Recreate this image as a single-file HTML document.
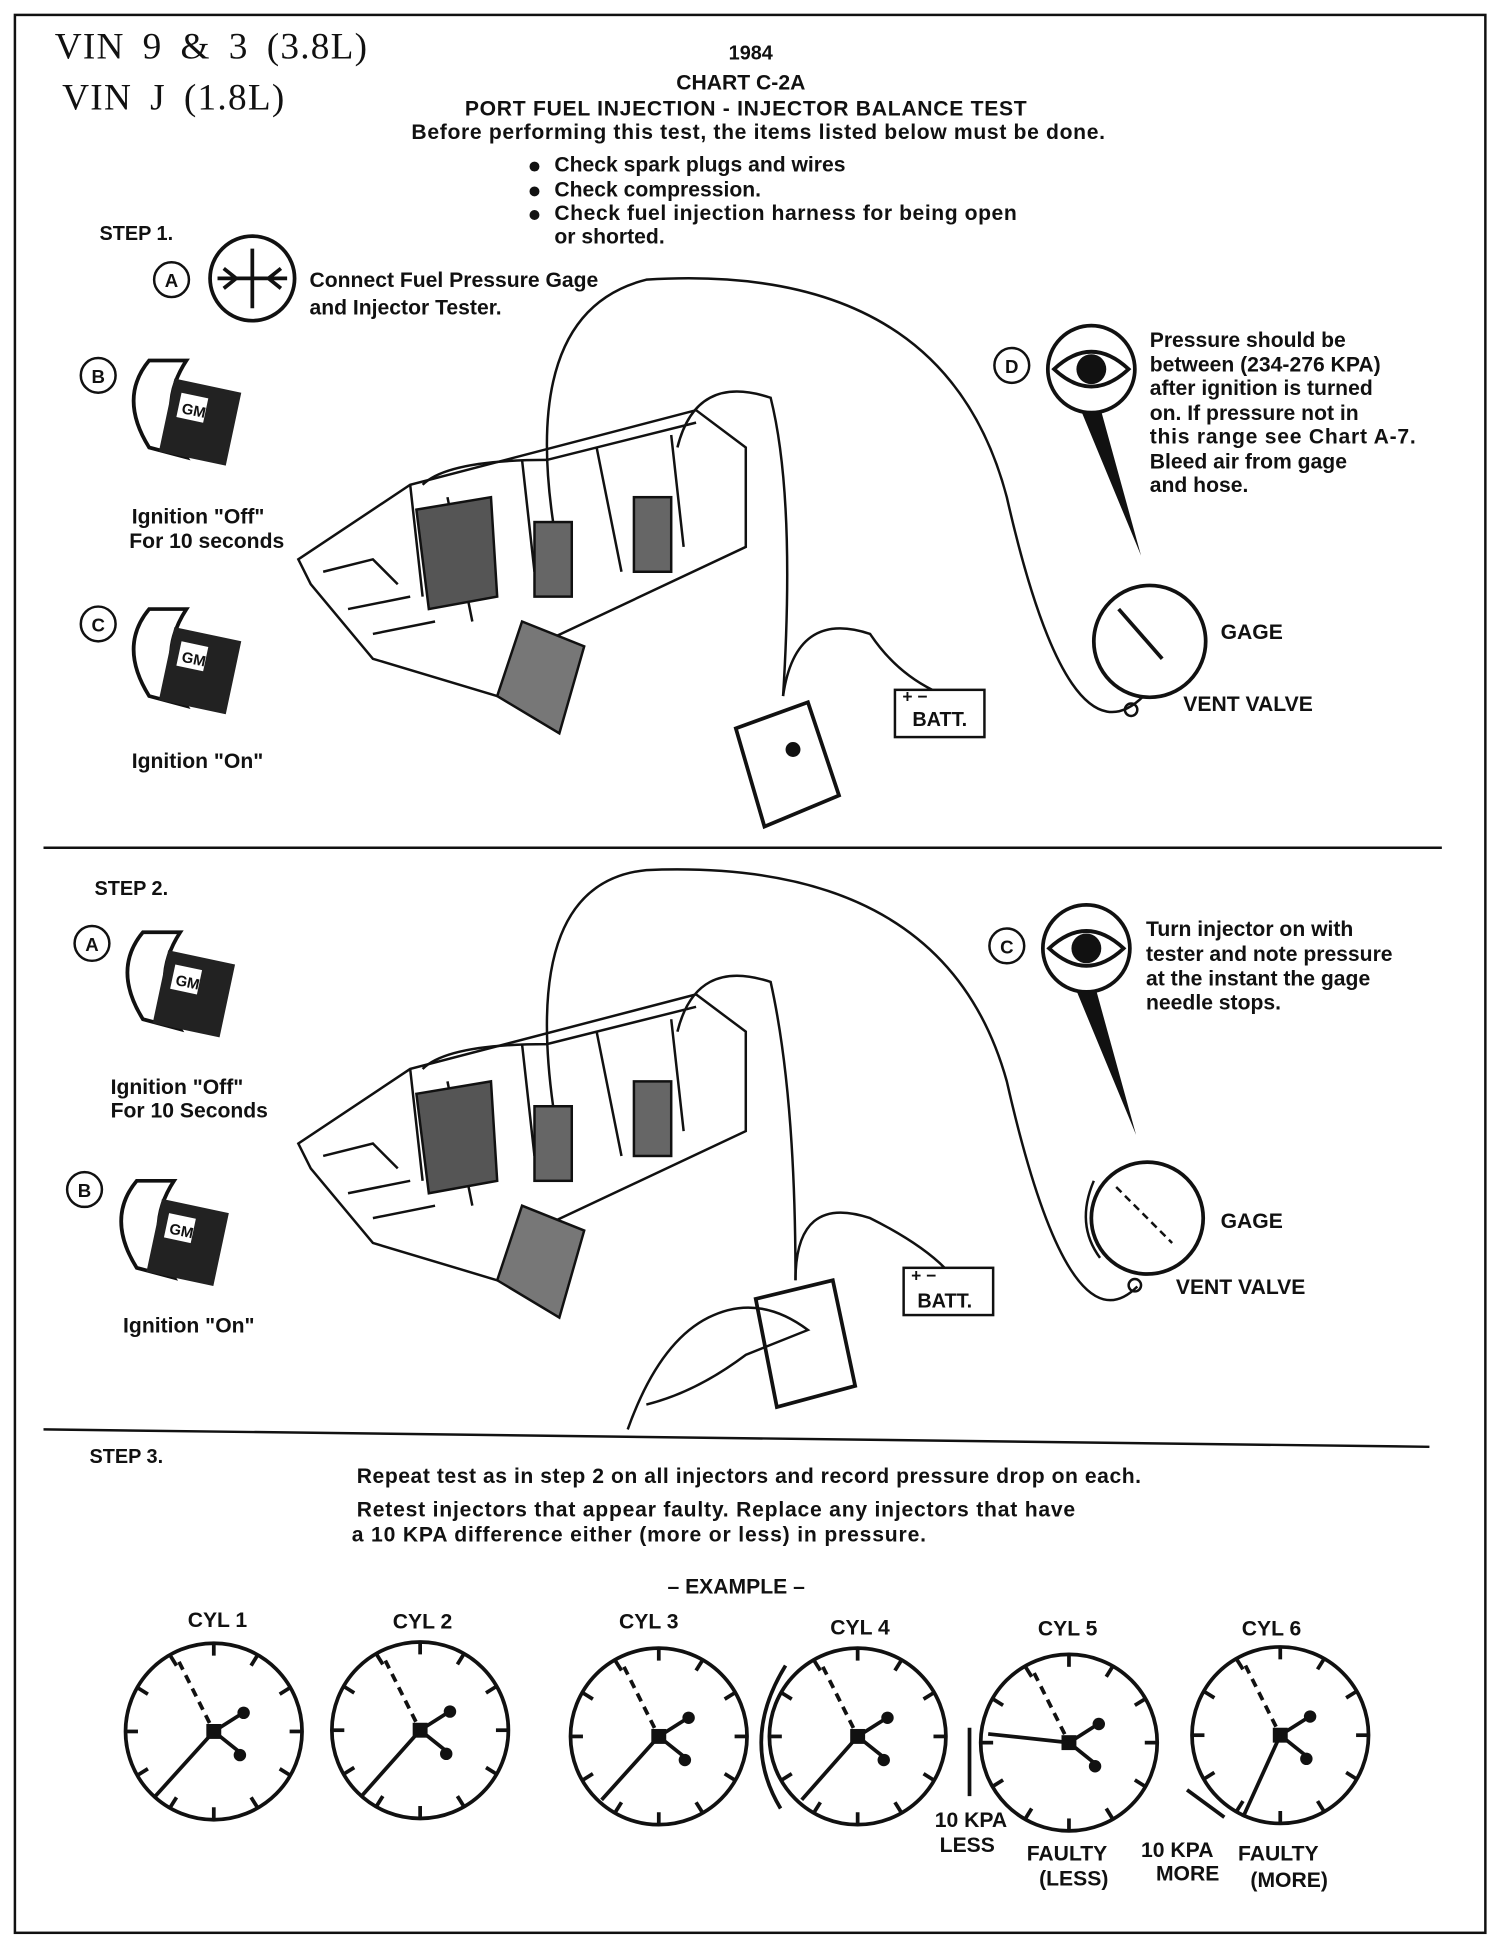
<!DOCTYPE html>
<html><head><meta charset="utf-8"><style>
html,body{margin:0;padding:0;background:#fff}
svg{display:block}
text{font-family:"Liberation Sans",sans-serif;font-weight:bold;fill:#111}
.s{font-family:"Liberation Serif",serif;font-weight:normal}
</style></head><body>
<svg width="1504" height="1944" viewBox="0 0 1210 1564" preserveAspectRatio="none" xmlns="http://www.w3.org/2000/svg">
<defs>
<g id="gauge">
<circle r="71" fill="none" stroke="#111" stroke-width="3"/>
<g stroke="#111" stroke-width="3">
<line x1="0" y1="-71" x2="0" y2="-61"/><line x1="0" y1="71" x2="0" y2="61"/>
<line x1="-71" y1="0" x2="-61" y2="0"/><line x1="71" y1="0" x2="61" y2="0"/>
<line x1="35" y1="-61" x2="30" y2="-53"/><line x1="61" y1="-35" x2="53" y2="-30"/>
<line x1="-35" y1="-61" x2="-30" y2="-53"/><line x1="-61" y1="-35" x2="-53" y2="-30"/>
<line x1="35" y1="61" x2="30" y2="53"/><line x1="61" y1="35" x2="53" y2="30"/>
<line x1="-35" y1="61" x2="-30" y2="53"/><line x1="-61" y1="35" x2="-53" y2="30"/>
<line x1="-28" y1="-56" x2="0" y2="0" stroke-dasharray="7,5"/>
<line x1="0" y1="0" x2="22" y2="-14"/><line x1="0" y1="0" x2="20" y2="16"/>
</g>
<rect x="-6" y="-6" width="12" height="12" fill="#111"/>
<circle cx="24" cy="-15" r="5" fill="#111"/><circle cx="21" cy="19" r="5" fill="#111"/>
</g>
<g id="key">
<path d="M-20,-40 q-25,30 0,70 l30,8 q-25,-40 0,-78z" fill="#fff" stroke="#111" stroke-width="3"/>
<rect x="-5" y="-25" width="55" height="60" fill="#222" transform="rotate(12)"/>
<rect x="3" y="-15" width="22" height="20" fill="#fff" transform="rotate(12)"/>
<text x="6" y="1" font-size="12" fill="#111" transform="rotate(12)">GM</text>
</g>
<g id="eye">
<circle r="35" fill="#fff" stroke="#111" stroke-width="3"/>
<path d="M-30,0 q30,-28 60,0 q-30,28 -60,0z" fill="#fff" stroke="#111" stroke-width="3"/>
<circle r="12" fill="#111"/>
<path d="M-8,34 L40,150 L8,34z" fill="#111"/>
</g>
<g id="engine" fill="none" stroke="#111" stroke-width="2">
<path d="M240,450 L330,390 L560,330 L600,360 L600,440 L430,520 L400,560 L300,530 L250,470z" fill="#fff"/>
<path d="M330,390 L340,480 M360,400 L380,500 M420,370 L430,460 M480,360 L500,460 M540,350 L550,440"/>
<path d="M335,410 L395,400 L400,480 L345,490z" fill="#555"/>
<path d="M400,560 L420,500 L470,520 L450,590z" fill="#777"/>
<path d="M260,460 L300,450 L320,470 M280,490 L330,480 M300,510 L350,500"/>
<rect x="430" y="420" width="30" height="60" fill="#666"/><rect x="510" y="400" width="30" height="60" fill="#666"/>
<path d="M340,390 q20,-20 100,-20 l120,-30"/>
</g>
</defs>
<rect x="12" y="12" width="1183" height="1543" fill="none" stroke="#111" stroke-width="2"/>
<text class="s" x="44" y="47" font-size="30" word-spacing="6" letter-spacing="1">VIN 9 &amp; 3 (3.8L)</text>
<text class="s" x="50" y="88" font-size="30" word-spacing="6" letter-spacing="1">VIN J (1.8L)</text>
<g font-size="17" text-anchor="middle">
<text x="604" y="48" font-size="16">1984</text>
<text x="596" y="72">CHART C-2A</text>
<text x="600" y="93" textLength="452">PORT FUEL INJECTION - INJECTOR BALANCE TEST</text>
<text x="610" y="112" textLength="558">Before performing this test, the items listed below must be done.</text>
</g>
<g font-size="17">
<circle cx="430" cy="134" r="4" fill="#111"/><text x="446" y="138">Check spark plugs and wires</text>
<circle cx="430" cy="154" r="4" fill="#111"/><text x="446" y="158">Check compression.</text>
<circle cx="430" cy="173" r="4" fill="#111"/><text x="446" y="177" textLength="372">Check fuel injection harness for being open</text>
<text x="446" y="196">or shorted.</text>
<text x="80" y="193" font-size="16">STEP 1.</text>
<text x="249" y="231">Connect Fuel Pressure Gage</text>
<text x="249" y="253">and Injector Tester.</text>
<text x="106" y="421">Ignition "Off"</text>
<text x="104" y="441">For 10 seconds</text>
<text x="106" y="618">Ignition "On"</text>
<text x="925" y="279">Pressure should be</text>
<text x="925" y="299">between (234-276 KPA)</text>
<text x="925" y="318">after ignition is turned</text>
<text x="925" y="338">on. If pressure not in</text>
<text x="925" y="357" textLength="214">this range see Chart A-7.</text>
<text x="925" y="377">Bleed air from gage</text>
<text x="925" y="396">and hose.</text>
<text x="982" y="514">GAGE</text>
<text x="952" y="572">VENT VALVE</text>
<text x="76" y="720" font-size="16">STEP 2.</text>
<text x="89" y="880">Ignition "Off"</text>
<text x="89" y="899">For 10 Seconds</text>
<text x="99" y="1072">Ignition "On"</text>
<text x="922" y="753">Turn injector on with</text>
<text x="922" y="773">tester and note pressure</text>
<text x="922" y="793">at the instant the gage</text>
<text x="922" y="812">needle stops.</text>
<text x="982" y="988">GAGE</text>
<text x="946" y="1041">VENT VALVE</text>
<text x="72" y="1177" font-size="16">STEP 3.</text>
<text x="287" y="1193" textLength="631">Repeat test as in step 2 on all injectors and record pressure drop on each.</text>
<text x="287" y="1220" textLength="578">Retest injectors that appear faulty. Replace any injectors that have</text>
<text x="283" y="1240" textLength="462">a 10 KPA difference either (more or less) in pressure.</text>
<text x="537" y="1282">– EXAMPLE –</text>
<text x="151" y="1309">CYL 1</text><text x="316" y="1310">CYL 2</text><text x="498" y="1310">CYL 3</text>
<text x="668" y="1315">CYL 4</text><text x="835" y="1316">CYL 5</text><text x="999" y="1316">CYL 6</text>
<text x="752" y="1470">10 KPA</text><text x="756" y="1490">LESS</text>
<text x="826" y="1497">FAULTY</text><text x="836" y="1517">(LESS)</text>
<text x="918" y="1494">10 KPA</text><text x="930" y="1513">MORE</text>
<text x="996" y="1497">FAULTY</text><text x="1006" y="1518">(MORE)</text>
</g>
<g font-size="15" text-anchor="middle">
<circle cx="138" cy="225" r="14" fill="#fff" stroke="#111" stroke-width="2"/><text x="138" y="231">A</text>
<circle cx="79" cy="302" r="14" fill="#fff" stroke="#111" stroke-width="2"/><text x="79" y="308">B</text>
<circle cx="79" cy="502" r="14" fill="#fff" stroke="#111" stroke-width="2"/><text x="79" y="508">C</text>
<circle cx="814" cy="294" r="14" fill="#fff" stroke="#111" stroke-width="2"/><text x="814" y="300">D</text>
<circle cx="74" cy="759" r="14" fill="#fff" stroke="#111" stroke-width="2"/><text x="74" y="765">A</text>
<circle cx="68" cy="957" r="14" fill="#fff" stroke="#111" stroke-width="2"/><text x="68" y="963">B</text>
<circle cx="810" cy="761" r="14" fill="#fff" stroke="#111" stroke-width="2"/><text x="810" y="767">C</text>
</g>
<circle cx="203" cy="224" r="34" fill="#fff" stroke="#111" stroke-width="3"/>
<path d="M175,224 H231 M203,200 V248 M180,216 l10,8 -10,8 M226,216 l-10,8 10,8" stroke="#111" stroke-width="3" fill="none"/>
<use href="#key" x="140" y="330"/><use href="#key" x="140" y="530"/>
<use href="#key" x="135" y="790"/><use href="#key" x="130" y="990"/>
<use href="#eye" x="878" y="297"/><use href="#eye" x="874" y="763"/>
<line x1="35" y1="682" x2="1160" y2="682" stroke="#111" stroke-width="2"/>
<line x1="35" y1="1150" x2="1150" y2="1164" stroke="#111" stroke-width="2"/>
<use href="#engine"/><use href="#engine" y="470"/>
<g fill="none" stroke="#111" stroke-width="2">
<path d="M445,420 Q420,250 520,225 Q760,210 810,400 Q860,620 920,560"/>
<path d="M545,360 Q560,300 620,320 Q640,400 630,560"/>
<path d="M630,560 Q640,490 700,510 Q720,540 750,555"/>
<path d="M445,890 Q420,710 520,700 Q760,690 810,870 Q860,1090 915,1035"/>
<path d="M545,830 Q560,770 620,790 Q640,880 640,1030"/>
<path d="M640,1030 Q640,960 700,980 Q740,1000 760,1020"/>
<circle cx="925" cy="516" r="45" stroke-width="3"/><line x1="900" y1="490" x2="935" y2="530" stroke-width="3"/>
<circle cx="923" cy="980" r="45" stroke-width="3"/><line x1="898" y1="955" x2="943" y2="1000" stroke-dasharray="6,4"/>
<path d="M880,950 Q865,985 885,1012" stroke-width="2"/>
<circle cx="910" cy="571" r="5"/><circle cx="913" cy="1034" r="5"/>
<path d="M592,586 L650,565 L675,640 L615,665z" fill="#fff" stroke-width="3"/><circle cx="638" cy="603" r="5" fill="#111"/>
<path d="M608,1045 L670,1030 L688,1115 L625,1132z" fill="#fff" stroke-width="3"/>
<path d="M505,1150 Q530,1080 570,1060 Q610,1040 650,1070 L600,1090 Q560,1120 520,1130"/>
<rect x="720" y="555" width="72" height="38" fill="#fff" stroke-width="2"/>
<rect x="727" y="1020" width="72" height="38" fill="#fff" stroke-width="2"/>
</g>
<text x="734" y="584" font-size="16">BATT.</text><text x="738" y="1052" font-size="16">BATT.</text>
<text x="726" y="565" font-size="14">+  −</text><text x="733" y="1031" font-size="14">+  −</text>
<use href="#gauge" x="172" y="1393"/><use href="#gauge" x="338" y="1392"/>
<use href="#gauge" x="530" y="1397"/><use href="#gauge" x="690" y="1397"/>
<use href="#gauge" x="860" y="1402"/><use href="#gauge" x="1030" y="1396"/>
<g stroke="#111" stroke-width="3" fill="none">
<line x1="172" y1="1393" x2="125" y2="1445"/><line x1="338" y1="1392" x2="290" y2="1446"/>
<line x1="530" y1="1397" x2="484" y2="1448"/><line x1="690" y1="1397" x2="645" y2="1448"/>
<line x1="860" y1="1402" x2="795" y2="1395"/><line x1="1030" y1="1396" x2="1000" y2="1462"/>
<path d="M632,1340 Q595,1400 628,1455"/>
<path d="M780,1390 V1445"/><path d="M955,1440 L985,1462"/>
</g>
</svg>
</body></html>
